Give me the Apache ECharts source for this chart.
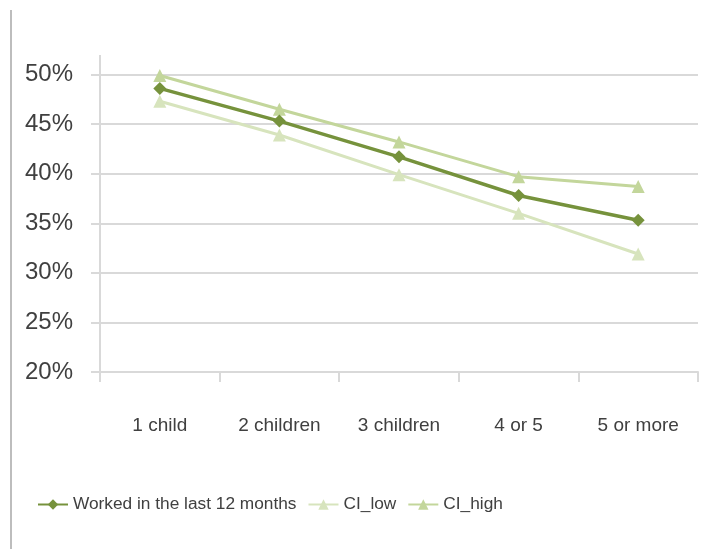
<!DOCTYPE html>
<html>
<head>
<meta charset="utf-8">
<script src="https://cdn.jsdelivr.net/npm/echarts@6/dist/echarts.min.js"></script>
<style>
html,body{margin:0;padding:0;background:#fff;}
#chart{width:713px;height:549px;}
</style>
</head>
<body>
<div id="chart"></div>
<script>
const categories = ['1 child', '2 children', '3 children', '4 or 5', '5 or more'];
const worked = [48.6, 45.3, 41.7, 37.8, 35.3];
const ciLow = [47.3, 43.9, 39.9, 36.0, 31.9];
const ciHigh = [49.9, 46.5, 43.2, 39.7, 38.7];
const yTicks = { min: 20, max: 50, interval: 5 };

const FONT = "'Liberation Sans', sans-serif";
const TXT = '#404040';
const GRID = '#d9d9d9';

const chart = echarts.init(document.getElementById('chart'));
chart.setOption({
  animation: false,
  backgroundColor: '#fff',
  grid: { left: 100, right: 15, top: 74.5, bottom: 177 },
  graphic: [
    { type: 'line', shape: { x1: 11, y1: 10, x2: 11, y2: 549 }, style: { stroke: '#bdbdbd', lineWidth: 2 } },
    { type: 'line', shape: { x1: 100, y1: 55, x2: 100, y2: 75 }, style: { stroke: GRID, lineWidth: 2 } }
  ],
  xAxis: {
    type: 'category',
    data: categories,
    boundaryGap: true,
    axisLine: { lineStyle: { color: GRID, width: 2 } },
    axisTick: { show: true, interval: 0, length: 10, lineStyle: { color: GRID, width: 2 } },
    axisLabel: { interval: 0, margin: 44, color: TXT, fontFamily: FONT, fontSize: 19 }
  },
  yAxis: {
    type: 'value',
    min: yTicks.min, max: yTicks.max, interval: yTicks.interval,
    axisLine: { show: true, lineStyle: { color: GRID, width: 2 } },
    axisTick: { show: true, length: 9, lineStyle: { color: GRID, width: 2 } },
    splitLine: { lineStyle: { color: GRID, width: 2 } },
    axisLabel: { formatter: '{value}%', margin: 27, color: TXT, fontFamily: FONT, fontSize: 24 }
  },
  legend: {
    left: 32, top: 491,
    itemWidth: 30, itemHeight: 13, itemGap: 11,
    textStyle: { color: TXT, fontFamily: FONT, fontSize: 17.3 },
    data: ['Worked in the last 12 months', 'CI_low', 'CI_high']
  },
  series: [
    {
      name: 'CI_low', type: 'line', data: ciLow,
      symbol: 'triangle', symbolSize: 13,
      lineStyle: { color: '#D7E4BD', width: 3 },
      itemStyle: { color: '#D7E4BD' }, z: 2
    },
    {
      name: 'CI_high', type: 'line', data: ciHigh,
      symbol: 'triangle', symbolSize: 13,
      lineStyle: { color: '#C3D69B', width: 3 },
      itemStyle: { color: '#C3D69B' }, z: 2
    },
    {
      name: 'Worked in the last 12 months', type: 'line', data: worked,
      symbol: 'diamond', symbolSize: 13,
      lineStyle: { color: '#76923C', width: 3.5 },
      itemStyle: { color: '#76923C' }, z: 3
    }
  ]
});
</script>
</body>
</html>
